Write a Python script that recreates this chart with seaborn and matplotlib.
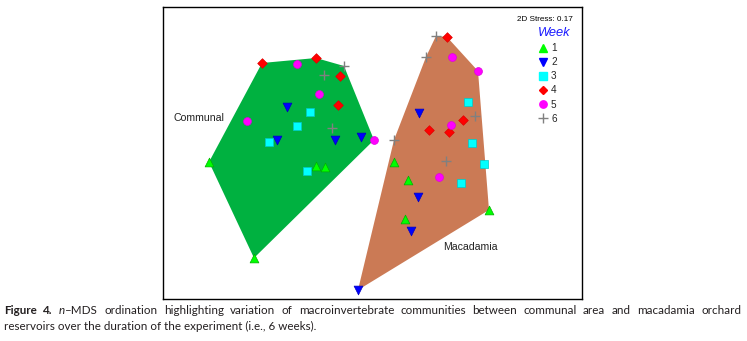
import matplotlib
matplotlib.use("Agg")
import matplotlib.pyplot as plt
from matplotlib.lines import Line2D
import seaborn as sns
import pandas as pd

# ---- data (nMDS coordinates) ----
weeks = [1, 2, 3, 4, 5, 6]

communal_week = [1, 1, 1, 1, 2, 2, 2, 2, 3, 3, 3, 3, 4, 4, 4, 4, 5, 5, 5, 5, 6, 6, 6]
communal_x = [-1.63, -0.56, -0.47, -1.18, -0.85, -0.95, -0.37, -0.11, -0.62, -0.75, -1.03, -0.65,
              -1.10, -0.56, -0.32, -0.34, -0.75, -0.53, -1.25, 0.02, -0.28, -0.48, -0.40]
communal_y = [0.03, -0.01, -0.02, -0.93, 0.58, 0.25, 0.25, 0.28, 0.53, 0.39, 0.23, -0.06,
              1.02, 1.07, 0.89, 0.60, 1.01, 0.71, 0.44, 0.25, 0.99, 0.90, 0.37]

macadamia_week = [1, 1, 1, 1, 2, 2, 2, 2, 3, 3, 3, 3, 4, 4, 4, 4, 5, 5, 5, 5, 6, 6, 6, 6, 6]
macadamia_x = [0.22, 0.36, 1.17, 0.33, 0.47, 0.46, 0.39, -0.14, 0.96, 1.00, 1.12, 0.89,
               0.75, 0.91, 0.57, 0.77, 0.80, 1.06, 0.79, 0.67, 0.64, 0.54, 1.03, 0.22, 0.74]
macadamia_y = [0.03, -0.15, -0.45, -0.54, 0.52, -0.32, -0.66, -1.25, 0.63, 0.22, 0.01, -0.18,
               1.28, 0.45, 0.35, 0.33, 1.08, 0.94, 0.40, -0.12, 1.29, 1.08, 0.49, 0.25, 0.04]

stress_label = "2D Stress: 0.17"
site_labels = ["Communal", "Macadamia"]

# ---- styles ----
week_color = {1: "#00FF00", 2: "#0000FF", 3: "#00FFFF", 4: "#FF0000", 5: "#FF00FF", 6: "#808080"}
week_edge = {1: "#00B000", 2: "#0000C0", 3: "#00C8C8", 4: "#E00000", 5: "#E000E0", 6: "#808080"}
week_marker = {1: "^", 2: "v", 3: "s", 4: "D", 5: "o", 6: "+"}
week_size = {1: 40, 2: 40, 3: 30, 4: 24, 5: 32, 6: 60}
hull_color = {"Communal": "#00B140", "Macadamia": "#CB7A55"}

df = pd.concat([
    pd.DataFrame({"site": "Communal", "week": communal_week, "mds1": communal_x, "mds2": communal_y}),
    pd.DataFrame({"site": "Macadamia", "week": macadamia_week, "mds1": macadamia_x, "mds2": macadamia_y}),
], ignore_index=True)


def convex_hull(points):
    pts = sorted(set(points))
    if len(pts) <= 2:
        return pts

    def cross(o, a, b):
        return (a[0] - o[0]) * (b[1] - o[1]) - (a[1] - o[1]) * (b[0] - o[0])

    lower = []
    for p in pts:
        while len(lower) >= 2 and cross(lower[-2], lower[-1], p) <= 0:
            lower.pop()
        lower.append(p)
    upper = []
    for p in reversed(pts):
        while len(upper) >= 2 and cross(upper[-2], upper[-1], p) <= 0:
            upper.pop()
        upper.append(p)
    return lower[:-1] + upper[:-1]


W, H = 747, 341
sns.set_theme(style="white")
plt.rcParams["font.family"] = ["Liberation Sans", "DejaVu Sans"]

fig = plt.figure(figsize=(W / 100, H / 100), dpi=100)
fig.patch.set_facecolor("white")
ax = fig.add_axes([163 / W, 1 - 299 / H, (582 - 163) / W, (299 - 7) / H])

# hulls
for site in site_labels:
    sub = df[df.site == site]
    hull = convex_hull(list(zip(sub.mds1, sub.mds2)))
    hx = [p[0] for p in hull]
    hy = [p[1] for p in hull]
    ax.fill(hx, hy, color=hull_color[site], zorder=1, linewidth=0)

# points
for wk in weeks:
    sub = df[df.week == wk]
    if week_marker[wk] == "+":
        sns.scatterplot(data=sub, x="mds1", y="mds2", marker="+", color=week_color[wk],
                        s=week_size[wk], linewidth=1.0, ax=ax, legend=False, zorder=3)
    else:
        sns.scatterplot(data=sub, x="mds1", y="mds2", marker=week_marker[wk], color=week_color[wk],
                        edgecolor=week_edge[wk], linewidth=0.5, s=week_size[wk], ax=ax,
                        legend=False, zorder=3)

ax.set_xlim(-2.09, 2.10)
ax.set_ylim(-1.34, 1.58)
ax.set_xticks([])
ax.set_yticks([])
ax.set_xlabel("")
ax.set_ylabel("")
for sp in ax.spines.values():
    sp.set_visible(True)
    sp.set_color("black")
    sp.set_linewidth(1.0)

# site labels
fig.text(174 / W, 1 - 118 / H, "Communal", fontsize=7.6, color="#222222", va="center", ha="left")
fig.text(443 / W, 1 - 247 / H, "Macadamia", fontsize=7.6, color="#222222", va="center", ha="left")

# stress text
fig.text(573 / W, 1 - 19.7 / H, stress_label, fontsize=5.9, color="black", va="center", ha="right")

# legend
handles = []
for wk in weeks:
    if week_marker[wk] == "+":
        h = Line2D([], [], marker="+", linestyle="none", color=week_color[wk], markersize=7,
                   markeredgewidth=1.0)
    else:
        h = Line2D([], [], marker=week_marker[wk], linestyle="none", markerfacecolor=week_color[wk],
                   markeredgecolor=week_color[wk], markersize=5.3 if wk != 4 else 4.4)
    handles.append(h)
leg = ax.legend(handles, [str(w) for w in weeks], title="Week", loc="upper left",
                bbox_to_anchor=(538 / W, 1 - 27 / H), bbox_transform=fig.transFigure,
                frameon=False, fontsize=7.2, labelspacing=0.41, handletextpad=0.3,
                handlelength=1.0, borderpad=0, borderaxespad=0, alignment="left",
                title_fontproperties={"style": "italic", "size": 9.3})
leg.get_title().set_color("#1A1AFF")

# caption (justified first line)
cap_font = ["Lato", "DejaVu Sans"]
line1 = [[("Figure", "bold", "normal")], [("4.", "bold", "normal")],
         [("n", "normal", "italic"), ("\u2013MDS", "normal", "normal")]]
for wtxt in ("ordination highlighting variation of macroinvertebrate communities between "
             "communal area and macadamia orchard").split():
    line1.append([(wtxt, "normal", "normal")])
line2 = "reservoirs over the duration of the experiment (i.e., 6 weeks)."

fig.canvas.draw()
renderer = fig.canvas.get_renderer()

x_left, x_right = 4.0, 741.0
# choose caption size so that the second (natural) line spans its width in the reference
probe = fig.text(0, 0, line2, fontsize=10, family=cap_font)
w10 = probe.get_window_extent(renderer).width
probe.remove()
cap_size = 10 * (315.0 - x_left) / w10


def make_word(word, y):
    texts = []
    widths = []
    for txt, weight, style in word:
        t = fig.text(0, y, txt, fontsize=cap_size, family=cap_font, weight=weight, style=style,
                     color="#231F20", ha="left", va="baseline")
        texts.append(t)
        widths.append(t.get_window_extent(renderer).width)
    return texts, widths


y1 = 1 - 314.3 / H
words = [make_word(w, y1) for w in line1]
total = sum(sum(ws) for _, ws in words)
gap = (x_right - x_left - total) / (len(words) - 1)
x = x_left
for texts, ws in words:
    for t, wdt in zip(texts, ws):
        t.set_x(x / W)
        x += wdt
    x += gap

fig.text(x_left / W, 1 - 330 / H, line2, fontsize=cap_size, family=cap_font, color="#231F20",
         ha="left", va="baseline")

fig.savefig("out.png", dpi=100, facecolor="white")
